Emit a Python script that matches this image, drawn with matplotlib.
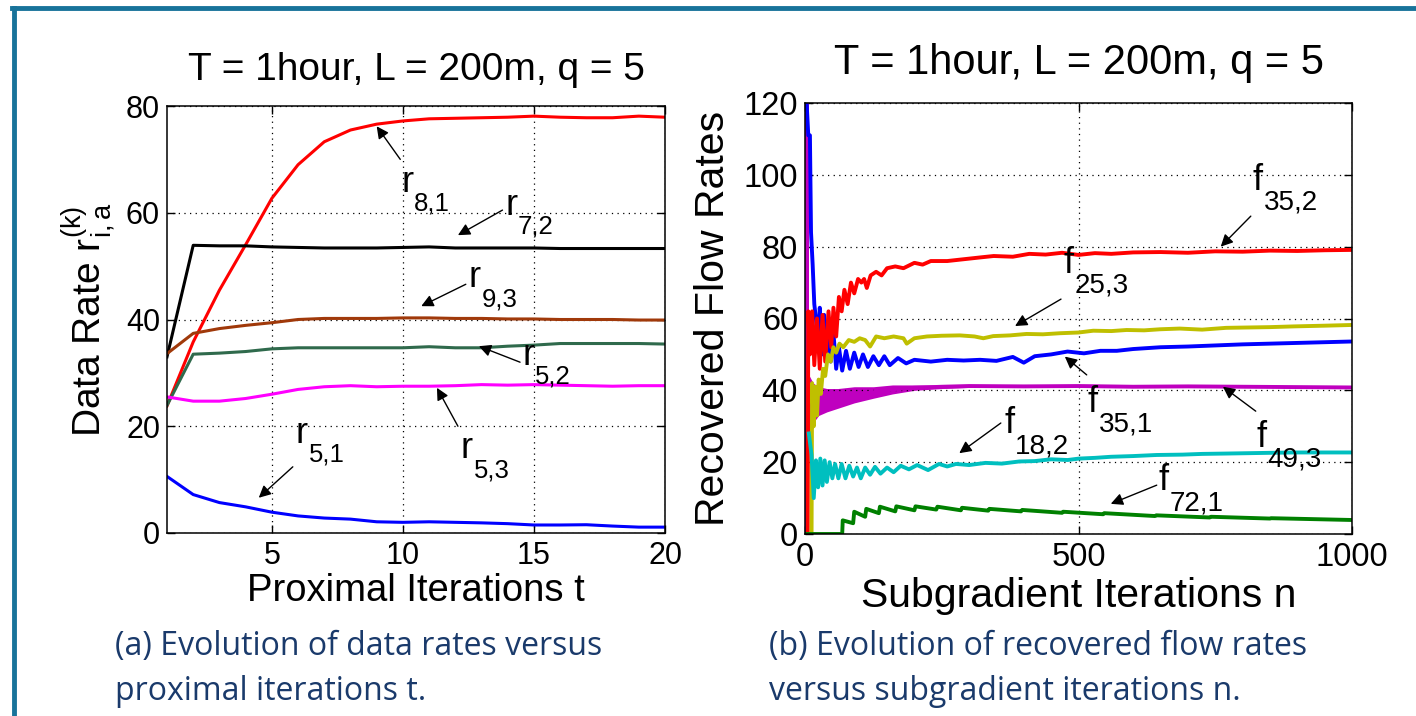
import matplotlib
matplotlib.use('Agg')
import matplotlib.pyplot as plt
from matplotlib.lines import Line2D
from matplotlib.transforms import offset_copy

plt.rcParams['font.family'] = ['Liberation Sans', 'DejaVu Sans']
plt.rcParams['mathtext.fontset'] = 'custom'
plt.rcParams['mathtext.rm'] = 'Liberation Sans'
plt.rcParams['mathtext.it'] = 'Liberation Sans'

# ---- (a) data rates vs proximal iterations ----
t = list(range(1, 21))
r_8_1 = [23.8, 35.8, 45.5, 54.0, 62.7, 69.0, 73.3, 75.5, 76.6, 77.2,
         77.6, 77.7, 77.8, 77.9, 78.1, 77.9, 77.8, 77.8, 78.1, 77.9]
r_7_2 = [33.0, 53.9, 53.8, 53.8, 53.6, 53.5, 53.4, 53.4, 53.4, 53.5,
         53.6, 53.4, 53.4, 53.4, 53.4, 53.3, 53.3, 53.3, 53.3, 53.3]
r_9_3 = [33.6, 37.4, 38.3, 38.9, 39.4, 40.0, 40.2, 40.2, 40.2, 40.3,
         40.3, 40.2, 40.2, 40.1, 40.1, 40.0, 40.0, 40.0, 39.9, 39.9]
r_5_2 = [23.9, 33.5, 33.7, 34.0, 34.5, 34.7, 34.7, 34.7, 34.7, 34.7,
         34.9, 34.7, 34.7, 35.0, 35.2, 35.5, 35.5, 35.5, 35.5, 35.4]
r_5_3 = [25.5, 24.7, 24.7, 25.2, 26.0, 26.9, 27.4, 27.6, 27.4, 27.5,
         27.5, 27.6, 27.8, 27.7, 27.8, 27.7, 27.6, 27.5, 27.6, 27.6]
r_5_1 = [10.6, 7.2, 5.7, 4.9, 3.9, 3.2, 2.8, 2.6, 2.1, 2.0,
         2.1, 2.0, 1.9, 1.75, 1.5, 1.5, 1.55, 1.3, 1.1, 1.1]

# ---- (b) recovered flow rates vs subgradient iterations ----
n_f35_1 = [0, 3, 6, 9, 11, 14, 17, 20, 24, 27, 31, 35, 39, 43, 47, 52, 57, 62, 68, 75,
           82, 90, 98, 106, 115, 125, 135, 145, 155, 170, 185, 200, 230, 260, 290, 320,
           350, 380, 400, 420, 450, 480, 510, 540, 570, 600, 650, 700, 750, 800, 850,
           900, 950, 1000]
f35_1 = [120, 120, 111, 111, 84, 75, 64, 60, 52, 63, 50, 61, 49, 58, 48, 56, 46, 52, 45.5, 51,
         46, 50.5, 46.5, 50, 46.5, 49.5, 47, 49.5, 47, 49, 47.5, 48.5, 48, 48.5, 48.3, 48.5,
         48.2, 49.3, 47.7, 49.5, 50, 50.8, 50.3, 51, 51, 51.5, 52, 52.2, 52.5, 52.8, 53,
         53.2, 53.4, 53.6]

n_f35_2 = [0, 5, 6, 9, 13, 17, 22, 27, 32, 37, 43, 48, 52, 57, 62, 67, 72, 78, 84, 90,
           97, 103, 108, 113, 120, 130, 140, 150, 165, 180, 200, 215, 230, 260, 290, 320,
           345, 380, 410, 440, 470, 500, 530, 560, 600, 650, 700, 750, 800, 850, 900,
           950, 1000]
f35_2 = [0, 0, 62, 50, 62, 47, 60, 46, 61, 48, 62, 52, 63, 55, 66, 62, 68, 64, 70, 67,
         71, 70, 71, 68.5, 72, 73, 72, 74, 74.5, 74, 75.5, 75, 76, 76, 76.5, 77,
         77.4, 77.2, 78, 77.8, 78.3, 77.7, 78.2, 78, 78.4, 78.5, 78.3, 78.7, 78.6, 78.9, 78.8,
         79, 79.1]

n_f25_3 = [0, 12, 13, 16, 19, 22, 25, 29, 33, 37, 42, 47, 52, 57, 63, 70, 80, 90, 100,
           110, 119, 130, 145, 162, 180, 186, 200, 223, 250, 283, 310, 326, 344, 375, 405,
           435, 466, 500, 527, 560, 588, 620, 649, 685, 726, 770, 810, 850, 893, 950, 1000]
f25_3 = [0, 0, 42, 30, 41, 33, 43, 39, 46, 44, 50, 48, 52, 50.5, 53, 52, 54, 53.5, 54.5,
         54, 52.2, 55, 54.5, 55, 54.5, 53, 54.5, 55, 55.2, 55.3, 55, 54.5, 55.1, 55.3, 55.7,
         55.6, 55.9, 56.1, 56.6, 56.5, 56.8, 56.7, 57, 57.2, 56.9, 57.4, 57.5, 57.6, 57.8, 58,
         58.2]

n_f49_3 = [0, 1, 2, 3, 4, 5, 10, 20, 40, 60, 90, 125, 160, 200, 250, 300, 400, 500,
           600, 700, 800, 900, 1000]
f49_3 = [0, 120, 0, 120, 28, 40, 36, 37, 37.5, 38, 38.5, 39.5, 40.3, 40.7, 41, 41.2, 41.1,
         41.2, 41, 41.1, 41, 40.9, 40.8]
# spread of the fast oscillation of f49,3
n_f49_band = [4, 8, 15, 25, 40, 60, 90, 125, 160, 200, 250, 300, 350, 400]
f49_upper = [46, 44, 42, 41, 40.5, 40.5, 41, 41, 41.5, 41.5, 41.5, 41.5, 41.3, 41.2]
f49_lower = [26, 29, 31, 33, 34, 35, 36.5, 37.8, 39, 40, 40.5, 40.8, 40.9, 41.0]

n_f18_2 = [7, 12, 16, 20, 24, 28, 32, 36, 40, 45, 50, 55, 61, 67, 74, 81, 88, 95, 102,
           110, 119, 128, 138, 150, 162, 175, 190, 205, 225, 245, 260, 276, 300, 330, 360,
           392, 420, 450, 480, 501, 530, 559, 600, 643, 690, 726, 770, 810, 850, 893, 950,
           1000]
f18_2 = [28, 22, 10, 20.5, 13, 21, 13.5, 20.5, 14.5, 20, 15.5, 19.5, 15.5, 19.5, 15.5, 19,
         16, 18.5, 15.5, 18.5, 16.5, 18.7, 16.8, 18.5, 17.2, 19, 18, 19.2, 17.8, 19.5, 18.8,
         19.5, 19.2, 19.8, 19.6, 20.2, 20.3, 20.8, 20.6, 21, 21.2, 21.5, 21.7, 22, 22.1, 22.3,
         22.4, 22.5, 22.6, 22.7, 22.7, 22.7]

n_f72_1 = [0, 68, 69, 88, 90, 110, 112, 135, 137, 165, 167, 200, 202, 240, 242, 285, 287,
           335, 337, 395, 397, 470, 472, 545, 547, 640, 642, 740, 742, 850, 852, 1000]
f72_1 = [0, 0, 3.8, 3.0, 6.2, 4.8, 7.0, 5.8, 7.6, 6.3, 7.7, 6.6, 7.7, 6.8, 7.6, 6.6, 7.3,
         6.5, 7.0, 6.3, 6.7, 5.9, 6.2, 5.5, 5.8, 5.0, 5.2, 4.6, 4.8, 4.3, 4.4, 3.9]

title_txt = 'T = 1hour, L = 200m, q = 5'

fig = plt.figure(figsize=(14.16, 7.16), dpi=100)
axL = fig.add_axes([167 / 1416, 183 / 716, 498 / 1416, 427 / 716])
axR = fig.add_axes([805 / 1416, 182 / 716, 547 / 1416, 431 / 716])

# left panel lines
axL.plot(t, r_8_1, color='#ff0000', lw=2.2)
axL.plot(t, r_7_2, color='black', lw=2.2)
axL.plot(t, r_9_3, color='#a0390a', lw=2.2)
axL.plot(t, r_5_2, color='#2f6a4c', lw=2.2)
axL.plot(t, r_5_3, color='#ff00ff', lw=2.2)
axL.plot(t, r_5_1, color='#0000ff', lw=2.2)
axL.set_xlim(1, 20)
axL.set_ylim(0, 80)
axL.set_xticks([5, 10, 15, 20])
axL.set_yticks([0, 20, 40, 60, 80])

# right panel lines
axR.fill_between(n_f49_band, f49_lower, f49_upper, color='#bf00bf', lw=0)
axR.plot(n_f49_3, f49_3, color='#bf00bf', lw=2.8)
axR.plot(n_f35_1, f35_1, color='#0000ff', lw=2.8)
axR.plot(n_f35_2, f35_2, color='#ff0000', lw=2.8)
axR.plot(n_f25_3, f25_3, color='#bfbf00', lw=2.8)
axR.plot(n_f18_2, f18_2, color='#00bfbf', lw=2.8)
axR.plot(n_f72_1, f72_1, color='#008000', lw=2.8)
axR.set_xlim(0, 1000)
axR.set_ylim(0, 120)
axR.set_xticks([0, 500, 1000])
axR.set_yticks([0, 20, 40, 60, 80, 100, 120])

for ax, tsize in ((axL, 22), (axR, 23.5)):
    ax.grid(True, color='black', linestyle=(0, (1, 3.5)), linewidth=0.9)
    ax.tick_params(direction='in', length=6, width=1, top=True, right=True,
                   labelsize=tsize)
    ax.tick_params(axis='x', pad=6)
    ax.tick_params(axis='y', pad=5)
    for s in ax.spines.values():
        s.set_linewidth(1.1)

axL.set_title(title_txt, fontsize=28, pad=18.5)
axR.set_title(title_txt, fontsize=30, pad=21)

axL.set_xlabel('Proximal Iterations t', fontsize=27.5)
axL.set_ylabel(r'Data Rate $\mathrm{r}_{\mathrm{i,a}}^{\mathrm{(k)}}$', fontsize=28)
axR.set_xlabel('Subgradient Iterations n', fontsize=29.5)
axR.set_ylabel('Recovered Flow Rates', fontsize=29.5)
axL.xaxis.set_label_coords(0.5, -0.093)
axR.xaxis.set_label_coords(0.5, -0.100)
axL.yaxis.set_label_coords(-0.10, 0.5)
axR.yaxis.set_label_coords(-0.1335, 0.5)


def label(ax, letter, sub, pos, tail, head, sizes, dx, dy):
    ax.text(pos[0], pos[1], letter, fontsize=sizes[0], ha='left', va='baseline')
    tr = offset_copy(ax.transData, fig=fig, x=dx, y=-dy, units='dots')
    ax.text(pos[0], pos[1], sub, fontsize=sizes[1], ha='left', va='baseline', transform=tr)
    ax.annotate('', xy=head, xytext=tail,
                arrowprops=dict(arrowstyle='-|>', color='black', lw=1,
                                mutation_scale=18, shrinkA=0, shrinkB=0))


rs = (26, 18.5)
label(axL, 'r', '8,1', (9.93, 63.9), (9.9, 70), (9.0, 76.2), rs, 13, 19)
label(axL, 'r', '7,2', (13.9, 59.6), (13.8, 60.5), (12.1, 55.8), rs, 13, 19)
label(axL, 'r', '9,3', (12.5, 46), (12.4, 46.6), (10.7, 42.5), rs, 13, 19)
label(axL, 'r', '5,2', (14.55, 31.5), (14.47, 32), (12.9, 35), rs, 13, 19)
label(axL, 'r', '5,3', (12.2, 14), (12.1, 20), (11.3, 27.2), rs, 13, 19)
label(axL, 'r', '5,1', (5.9, 16.9), (5.8, 12.4), (4.5, 6.6), rs, 13, 19)

fs = (26, 20)
label(axR, 'f', '35,2', (818, 95.8), (815, 88.5), (760, 80), fs, 11, 20)
label(axR, 'f', '25,3', (472, 72.7), (468, 65.4), (384, 57.9), fs, 11, 20)
label(axR, 'f', '35,1', (517, 34), (515, 44.3), (475, 49.4), fs, 11, 20)
label(axR, 'f', '49,3', (826, 24.3), (824, 34.2), (764, 41), fs, 11, 20)
label(axR, 'f', '18,2', (364, 28), (358, 30.9), (282, 22.5), fs, 11, 20)
label(axR, 'f', '72,1', (647, 12.2), (643, 13.6), (559, 8.4), fs, 11, 20)

# captions
cap_color = '#1a3a6b'
cap_kw = dict(fontsize=23, family='Open Sans', color=cap_color, va='baseline')
fig.text(115 / 1416, 1 - 655 / 716, '(a) Evolution of data rates versus', **cap_kw)
fig.text(115 / 1416, 1 - 700 / 716, 'proximal iterations t.', **cap_kw)
fig.text(769 / 1416, 1 - 655 / 716, '(b) Evolution of recovered flow rates', **cap_kw)
fig.text(769 / 1416, 1 - 700 / 716, 'versus subgradient iterations n.', **cap_kw)

# slide frame
frame = '#18739a'
fig.add_artist(Line2D([12 / 1416, 1], [1 - 8 / 716, 1 - 8 / 716],
                      transform=fig.transFigure, color=frame, lw=3.5))
fig.add_artist(Line2D([14 / 1416, 14 / 1416], [0, 1 - 8 / 716],
                      transform=fig.transFigure, color=frame, lw=3.5))

fig.savefig('out.png', dpi=100)
